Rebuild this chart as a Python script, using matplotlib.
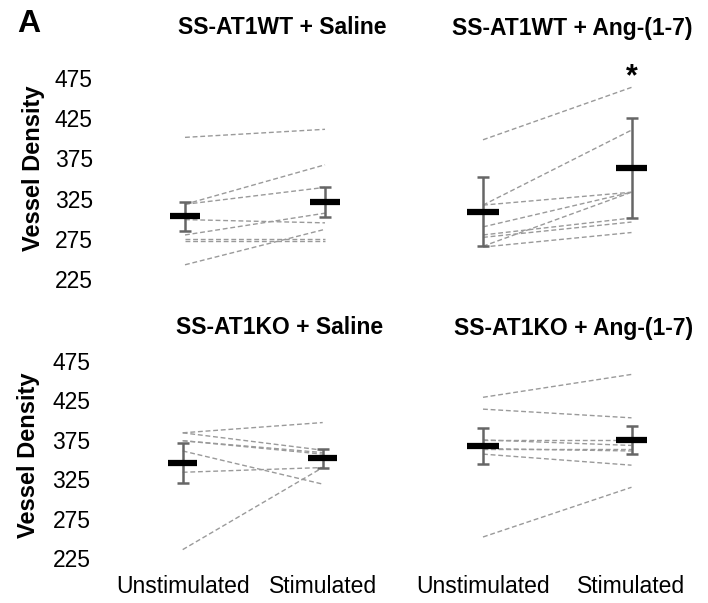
import numpy as np
import matplotlib.pyplot as plt

plt.rcParams['font.family'] = ['Liberation Sans', 'DejaVu Sans']

# ---- data ----
conditions = ['Unstimulated', 'Stimulated']
panel_titles = ['SS-AT1WT + Saline', 'SS-AT1WT + Ang-(1-7)',
                'SS-AT1KO + Saline', 'SS-AT1KO + Ang-(1-7)']
yticks = [225, 275, 325, 375, 425, 475]

# individual animals: (unstimulated, stimulated)
wt_saline_unstim = [401, 318, 318, 299, 280, 275, 272, 243]
wt_saline_stim = [411, 367, 339, 295, 307, 275, 272, 287]
wt_ang_unstim = [398, 317, 317, 290, 266, 280, 277, 265]
wt_ang_stim = [463, 410, 333, 333, 333, 301, 296, 283]
ko_saline_unstim = [384, 384, 374, 374, 361, 334, 236]
ko_saline_stim = [397, 362, 359, 357, 319, 340, 340]
ko_ang_unstim = [429, 414, 252, 375, 375, 364, 364, 357]
ko_ang_stim = [458, 403, 315, 375, 368, 364, 361, 343]

# group mean and SEM (unstimulated, stimulated)
wt_saline_mean = [303, 321]
wt_saline_sem = [18, 19]
wt_ang_mean = [309, 363]
wt_ang_sem = [43, 62]
ko_saline_mean = [346, 352]
ko_saline_sem = [25, 12]
ko_ang_mean = [367, 375]
ko_ang_sem = [23, 18]

panels = [
    (wt_saline_unstim, wt_saline_stim, wt_saline_mean, wt_saline_sem),
    (wt_ang_unstim, wt_ang_stim, wt_ang_mean, wt_ang_sem),
    (ko_saline_unstim, ko_saline_stim, ko_saline_mean, ko_saline_sem),
    (ko_ang_unstim, ko_ang_stim, ko_ang_mean, ko_ang_sem),
]

W, H = 708, 603
fig = plt.figure(figsize=(W / 100, H / 100), dpi=100)

# axes rectangles in pixels: (left, right, top(475), bottom(225))
boxes = [(115, 395, 77.7, 279.3), (408.75, 705.75, 77.7, 279.3),
         (112.7, 392.7, 361, 558.3), (408.75, 705.75, 361, 558.3)]
title_pos = [(282, 28), (572, 28), (280, 328), (574, 328)]

x = np.arange(2)
for i, (unstim, stim, mean, sem) in enumerate(panels):
    l, r, t, b = boxes[i]
    ax = fig.add_axes([l / W, 1 - b / H, (r - l) / W, (b - t) / H])
    ax.set_xlim(-0.5, 1.5)
    ax.set_ylim(225, 475)
    for u, s in zip(unstim, stim):
        ax.plot(x, [u, s], color='#9a9a9a', lw=1.0, ls=(0, (3.5, 2)), zorder=1)
    ax.errorbar(x, mean, yerr=sem, fmt='none', ecolor='#666666',
                elinewidth=1.8, capsize=4.5, capthick=1.8, zorder=2)
    ax.hlines(mean, x - 0.105, x + 0.105, color='black', lw=4.5, zorder=3)

    for sp in ax.spines.values():
        sp.set_visible(False)
    ax.tick_params(length=0)
    if i % 2 == 0:
        ax.set_yticks(yticks)
        ax.set_yticklabels([str(v) for v in yticks], fontsize=16.5)
        ax.tick_params(axis='y', pad=16)
    else:
        ax.set_yticks([])
    if i >= 2:
        ax.set_xticks(x)
        ax.set_xticklabels(conditions, fontsize=16.5)
        ax.tick_params(axis='x', pad=12)
    else:
        ax.set_xticks([])

    tx, ty = title_pos[i]
    fig.text(tx / W, 1 - ty / H, panel_titles[i], fontsize=16.5,
             fontweight='bold', ha='center', va='center')

    if i == 1:
        ax.text(1, 475, '*', fontsize=22, fontweight='bold',
                ha='center', va='center')

fig.text(34 / W, 1 - 168 / H, 'Vessel Density', rotation=90, fontsize=17,
         fontweight='bold', ha='center', va='center')
fig.text(28 / W, 1 - 455 / H, 'Vessel Density', rotation=90, fontsize=17,
         fontweight='bold', ha='center', va='center')
fig.text(17 / W, 1 - 24 / H, 'A', fontsize=23, fontweight='bold',
         ha='left', va='center')

fig.savefig('out.png', dpi=100)
